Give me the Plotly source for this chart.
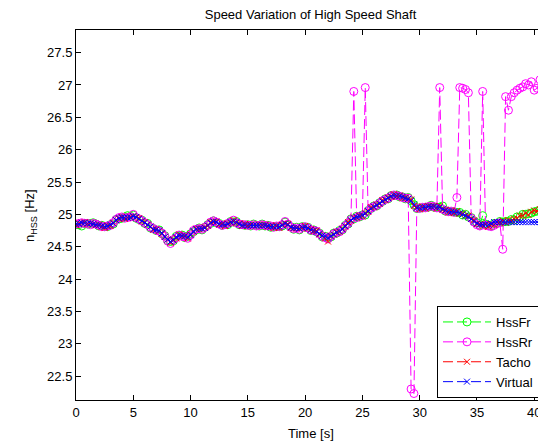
import plotly.graph_objects as go

# ---- data (Hz), sampled every 0.25 s from t = 0 ----
time_step_s = 0.25

hss_fr = [
    24.84, 24.84, 24.82, 24.86, 24.85, 24.86, 24.87, 24.85,
    24.82, 24.83, 24.81, 24.81, 24.84, 24.85, 24.92, 24.93,
    24.94, 24.96, 24.98, 24.97, 24.99, 24.94, 24.92, 24.91,
    24.86, 24.86, 24.79, 24.78, 24.75, 24.76, 24.70, 24.67,
    24.59, 24.58, 24.59, 24.66, 24.67, 24.68, 24.64, 24.66,
    24.70, 24.73, 24.76, 24.79, 24.76, 24.80, 24.84, 24.86,
    24.90, 24.87, 24.86, 24.83, 24.84, 24.84, 24.89, 24.88,
    24.89, 24.84, 24.84, 24.83, 24.84, 24.82, 24.85, 24.83,
    24.82, 24.85, 24.82, 24.83, 24.80, 24.81, 24.81, 24.81,
    24.82, 24.88, 24.83, 24.81, 24.77, 24.80, 24.76, 24.81,
    24.80, 24.80, 24.75, 24.76, 24.73, 24.71, 24.65, 24.66,
    24.63, 24.65, 24.71, 24.71, 24.75, 24.76, 24.83, 24.85,
    24.93, 24.93, 24.97, 24.96, 24.99, 24.99, 25.06, 25.09,
    25.13, 25.13, 25.18, 25.20, 25.24, 25.24, 25.29, 25.29,
    25.30, 25.27, 25.27, 25.24, 25.26, 25.21, 25.15, 25.09,
    25.10, 25.10, 25.11, 25.11, 25.14, 25.11, 25.11, 25.11,
    25.13, 25.05, 25.05, 25.04, 25.04, 25.03, 25.03, 24.99,
    25.00, 24.96, 24.95, 24.89, 24.87, 24.83, 24.98, 24.85,
    24.83, 24.82, 24.86, 24.86, 24.89, 24.88, 24.89, 24.89,
    24.92, 24.91, 24.96, 24.96, 25.00, 25.00, 25.01, 25.02,
    25.04, 25.05, 25.06, 25.08,
]

hss_rr = [
    24.85, 24.86, 24.87, 24.86, 24.86, 24.84, 24.86, 24.85,
    24.83, 24.81, 24.81, 24.82, 24.83, 24.87, 24.92, 24.95,
    24.96, 24.94, 24.95, 24.96, 25.00, 24.95, 24.93, 24.90,
    24.87, 24.84, 24.80, 24.78, 24.76, 24.74, 24.71, 24.66,
    24.59, 24.55, 24.61, 24.64, 24.68, 24.66, 24.65, 24.63,
    24.68, 24.75, 24.77, 24.78, 24.77, 24.80, 24.83, 24.88,
    24.90, 24.88, 24.85, 24.83, 24.84, 24.86, 24.88, 24.91,
    24.87, 24.85, 24.84, 24.84, 24.83, 24.83, 24.84, 24.82,
    24.83, 24.84, 24.83, 24.82, 24.82, 24.80, 24.82, 24.81,
    24.84, 24.89, 24.85, 24.80, 24.78, 24.79, 24.77, 24.80,
    24.81, 24.79, 24.76, 24.75, 24.74, 24.70, 24.66, 24.64,
    24.62, 24.66, 24.70, 24.72, 24.73, 24.77, 24.82, 24.86,
    24.92, 26.90, 24.95, 24.97, 24.98, 26.96, 25.05, 25.10,
    25.12, 25.14, 25.17, 25.21, 25.23, 25.25, 25.28, 25.30,
    25.29, 25.28, 25.26, 25.25, 25.25, 22.30, 22.23, 25.10,
    25.09, 25.11, 25.10, 25.12, 25.13, 25.12, 25.10, 26.96,
    25.08, 25.06, 25.04, 25.05, 25.03, 25.26, 26.96, 26.95,
    26.93, 26.88, 24.94, 24.88, 24.84, 24.82, 26.90, 24.83,
    24.82, 24.81, 24.83, 24.86, 24.87, 24.46, 26.82, 26.61,
    26.82, 26.88, 26.92, 26.95, 26.97, 27.02, 27.00, 27.05,
    26.92, 26.95, 27.08, 27.42,
]

tacho = [
    24.83, 24.86, 24.87, 24.88, 24.85, 24.86, 24.85, 24.83,
    24.84, 24.81, 24.79, 24.83, 24.82, 24.87, 24.91, 24.93,
    24.96, 24.93, 24.95, 24.96, 24.97, 24.95, 24.94, 24.89,
    24.88, 24.84, 24.81, 24.76, 24.77, 24.74, 24.70, 24.65,
    24.61, 24.56, 24.61, 24.63, 24.69, 24.66, 24.67, 24.63,
    24.69, 24.73, 24.78, 24.77, 24.78, 24.80, 24.82, 24.88,
    24.88, 24.89, 24.84, 24.85, 24.82, 24.86, 24.87, 24.91,
    24.87, 24.86, 24.82, 24.85, 24.82, 24.84, 24.83, 24.83,
    24.84, 24.83, 24.84, 24.81, 24.82, 24.79, 24.83, 24.79,
    24.84, 24.86, 24.85, 24.79, 24.79, 24.78, 24.78, 24.79,
    24.82, 24.78, 24.77, 24.74, 24.75, 24.69, 24.67, 24.63,
    24.58, 24.67, 24.69, 24.73, 24.73, 24.78, 24.81, 24.88,
    24.90, 24.95, 24.95, 24.98, 24.97, 25.02, 25.04, 25.11,
    25.11, 25.15, 25.16, 25.22, 25.22, 25.26, 25.27, 25.31,
    25.28, 25.29, 25.25, 25.26, 25.24, 25.23, 25.13, 25.11,
    25.08, 25.12, 25.09, 25.13, 25.12, 25.13, 25.09, 25.13,
    25.07, 25.07, 25.03, 25.06, 25.02, 25.05, 25.01, 25.01,
    24.98, 24.98, 24.93, 24.91, 24.85, 24.85, 24.82, 24.85,
    24.81, 24.84, 24.84, 24.88, 24.87, 24.90, 24.87, 24.91,
    24.90, 24.93, 24.94, 24.98, 24.98, 25.02, 24.99, 25.04,
    25.06, 25.05, 25.08, 25.10,
]

virtual = [
    24.85, 24.85, 24.87, 24.87, 24.86, 24.86, 24.85, 24.84,
    24.83, 24.82, 24.81, 24.82, 24.84, 24.86, 24.91, 24.94,
    24.95, 24.95, 24.95, 24.95, 24.97, 24.96, 24.93, 24.90,
    24.87, 24.84, 24.81, 24.77, 24.76, 24.75, 24.71, 24.65,
    24.61, 24.58, 24.60, 24.65, 24.67, 24.67, 24.66, 24.65,
    24.68, 24.74, 24.77, 24.78, 24.78, 24.79, 24.83, 24.87,
    24.89, 24.88, 24.85, 24.84, 24.84, 24.85, 24.88, 24.89,
    24.88, 24.85, 24.83, 24.83, 24.83, 24.83, 24.83, 24.83,
    24.83, 24.83, 24.83, 24.82, 24.81, 24.81, 24.81, 24.81,
    24.83, 24.86, 24.84, 24.80, 24.79, 24.79, 24.78, 24.80,
    24.80, 24.79, 24.76, 24.75, 24.73, 24.70, 24.67, 24.66,
    24.64, 24.66, 24.69, 24.72, 24.74, 24.77, 24.82, 24.86,
    24.91, 24.94, 24.96, 24.97, 24.99, 25.01, 25.05, 25.09,
    25.12, 25.14, 25.17, 25.20, 25.23, 25.25, 25.28, 25.29,
    25.29, 25.28, 25.27, 25.25, 25.24, 25.21, 25.15, 25.10,
    25.10, 25.10, 25.11, 25.12, 25.12, 25.12, 25.11, 25.11,
    25.08, 25.06, 25.05, 25.04, 25.04, 25.03, 25.02, 25.00,
    24.98, 24.96, 24.93, 24.89, 24.86, 24.84, 24.84, 24.84,
    24.84, 24.86, 24.88, 24.88, 24.88, 24.88, 24.88, 24.88,
    24.88, 24.88, 24.88, 24.88, 24.88, 24.88, 24.88, 24.88,
    24.88, 24.88, 24.88, 24.88,
]

time_s = [round(i * time_step_s, 2) for i in range(len(virtual))]

x_ticks = [0, 5, 10, 15, 20, 25, 30, 35, 40]
y_ticks = [22.5, 23, 23.5, 24, 24.5, 25, 25.5, 26, 26.5, 27, 27.5]
y_tick_labels = ["22.5", "23", "23.5", "24", "24.5", "25", "25.5", "26", "26.5", "27", "27.5"]

FONT = "Liberation Sans, Arial, Helvetica, sans-serif"
DASH = "10px,4px"

# the page body has an 8 px default margin, so the figure is 8 px smaller
FIG_W, FIG_H = 538, 434
L, R, T, B = 68, 1, 22, 42
PLOT_W = FIG_W - L - R
PLOT_H = FIG_H - T - B

series = [
    ("HssFr", hss_fr, "#00ff00", "circle-open", 8),
    ("HssRr", hss_rr, "#ff00ff", "circle-open", 8),
    ("Tacho", tacho, "#ff0000", "x-thin-open", 6),
    ("Virtual", virtual, "#0000ff", "x-thin-open", 6),
]

fig = go.Figure()
for name, vals, col, sym, sz in series:
    fig.add_trace(go.Scatter(
        x=time_s, y=vals, name=name, mode="lines+markers",
        line=dict(color=col, width=1, dash=DASH),
        marker=dict(symbol=sym, size=sz, color=col, line=dict(color=col, width=1)),
    ))

axis_common = dict(
    showline=True, linecolor="black", linewidth=1, mirror="ticks",
    ticks="inside", ticklen=5, tickwidth=1, tickcolor="black",
    showgrid=False, zeroline=False,
    tickfont=dict(family=FONT, size=13, color="black"),
)

fig.update_xaxes(range=[0, 40.94], tickvals=x_ticks, **axis_common)
fig.update_yaxes(range=[22.13, 27.85], tickvals=y_ticks, ticktext=y_tick_labels, **axis_common)

fig.update_layout(
    width=FIG_W, height=FIG_H,
    margin=dict(l=L, r=R, t=T, b=B),
    paper_bgcolor="white", plot_bgcolor="white",
    font=dict(family=FONT, size=13, color="black"),
    title=dict(text="Speed Variation of High Speed Shaft", x=0.5, xref="paper",
               xanchor="center", y=1 - 6 / FIG_H, yref="container", yanchor="middle",
               font=dict(family=FONT, size=13, color="black")),
    showlegend=True,
    legend=dict(x=1 - (537 - 531) / PLOT_W, xanchor="right", y=(392 - 390) / PLOT_H, yanchor="bottom",
                bgcolor="white", bordercolor="black", borderwidth=1,
                font=dict(family=FONT, size=13, color="black"),
                itemwidth=48, tracegroupgap=0),
    annotations=[
        dict(text="Time [s]", xref="paper", yref="paper", x=0.5, y=-(425 - 392) / PLOT_H,
             xanchor="center", yanchor="middle", showarrow=False,
             font=dict(family=FONT, size=13, color="black")),
        dict(text="n<sub>HSS</sub> [Hz]", xref="paper", yref="paper",
             x=(22 - L) / PLOT_W, y=(392 - 208) / PLOT_H, textangle=-90,
             xanchor="center", yanchor="middle", showarrow=False,
             font=dict(family=FONT, size=13, color="black")),
    ],
)

fig.write_html("out.html")
